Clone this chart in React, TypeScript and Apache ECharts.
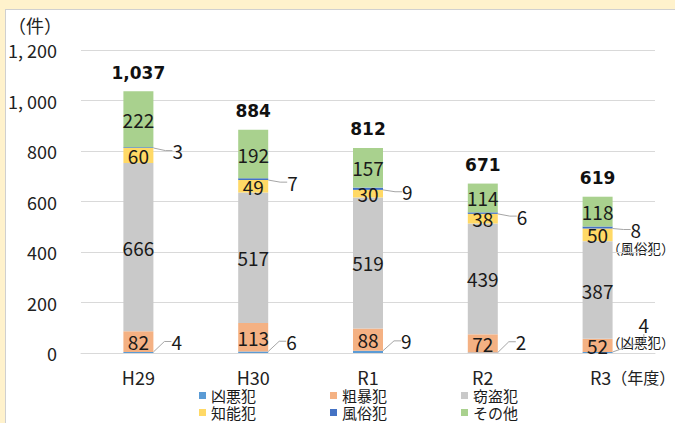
import React, { useEffect, useRef } from 'react';
import * as echarts from 'echarts';

const categories = ['H29', 'H30', 'R1', 'R2', 'R3'];
const seriesNames = ['凶悪犯', '粗暴犯', '窃盗犯', '知能犯', '風俗犯', 'その他'];
const kyoakuhan = [4, 6, 9, 2, 4];
const sobohan = [82, 113, 88, 72, 52];
const settohan = [666, 517, 519, 439, 387];
const chinohan = [60, 49, 30, 38, 50];
const fuzokuhan = [3, 7, 9, 6, 8];
const sonota = [222, 192, 157, 114, 118];
const totals = [1037, 884, 812, 671, 619];
const colors = ['#5B9BD5', '#F4B183', '#C9C9C9', '#FFD966', '#4472C4', '#A9D18E'];
const noteIndex = 4;
const lastCategoryUnit = '（年度）';
const notes = ['（風俗犯）', '（凶悪犯）'];

const NARROW = '"Liberation Sans Narrow", "Arial Narrow", "Noto Sans CJK JP", sans-serif';
const CJK = '"Noto Sans CJK JP", sans-serif';

export default function App() {
  const ref = useRef<HTMLDivElement>(null);
  useEffect(() => {
    if (!ref.current) return;
    const chart = echarts.init(ref.current, null, { renderer: 'svg' });
    const values = [kyoakuhan, sobohan, settohan, chinohan, fuzokuhan, sonota];
    const lineStyle = { color: '#A6A6A6', width: 1 };
    const series: any[] = values.map((data, i) => {
      const base: any = {
        name: seriesNames[i],
        type: 'bar',
        stack: 'total',
        barWidth: 30,
        data,
        itemStyle: { color: colors[i] },
      };
      if (i === 0 || i === 4) {
        base.label = {
          show: true,
          position: 'right',
          distance: 4,
          fontFamily: NARROW,
          fontSize: 19,
          color: '#1a1a1a',
        };
        base.labelLine = { show: true, length2: 7, lineStyle };
        base.labelLayout = (p: any) => {
          if (i === 0) {
            return p.dataIndex === noteIndex ? { dx: 22, dy: -28 } : { dx: 14, dy: -11 };
          }
          return p.dataIndex === noteIndex ? { dx: 14, dy: 2 } : { dx: 15, dy: 3 };
        };
      } else {
        base.label = {
          show: true,
          position: 'inside',
          fontFamily: NARROW,
          fontSize: 19,
          color: '#1a1a1a',
        };
      }
      return base;
    });
    series.push({
      name: '合計',
      type: 'bar',
      stack: 'total',
      barWidth: 30,
      data: totals.map(() => 0),
      itemStyle: { color: 'transparent' },
      label: {
        show: true,
        position: 'top',
        distance: 10,
        fontFamily: '"DejaVu Sans", sans-serif',
        fontWeight: 'bold',
        fontSize: 17,
        color: '#111',
        formatter: (p: any) => totals[p.dataIndex].toLocaleString('en-US'),
      },
    });

    const legendBase = {
      left: 199,
      padding: 0,
      itemWidth: 7,
      itemHeight: 7,
      itemGap: 74,
      icon: 'rect',
      textStyle: { fontFamily: CJK, fontSize: 15, lineHeight: 15, color: '#1a1a1a' },
    };

    chart.setOption({
      animation: false,
      grid: { left: 81, right: 20, top: 50, bottom: 70, outerBoundsMode: 'none', containLabel: false },
      legend: [
        { ...legendBase, data: seriesNames.slice(0, 3), top: 388 },
        { ...legendBase, data: seriesNames.slice(3, 6), top: 405 },
      ],
      xAxis: {
        type: 'category',
        data: categories,
        axisTick: { show: false },
        axisLine: { lineStyle: { color: '#D9D9D9' } },
        axisLabel: {
          interval: 0,
          fontFamily: NARROW,
          fontSize: 18,
          color: '#222',
          margin: 15,
          formatter: (v: string, idx: number) =>
            idx === categories.length - 1 ? `{a|${v}}{u|${lastCategoryUnit}}` : v,
          rich: {
            a: { fontFamily: NARROW, fontSize: 18, color: '#222', padding: [0, 0, 0, 70] },
            u: { fontFamily: CJK, fontSize: 16, color: '#222' },
          },
        },
      },
      yAxis: {
        type: 'value',
        min: 0,
        max: 1200,
        interval: 200,
        axisLine: { show: false },
        axisTick: { show: false },
        splitLine: { lineStyle: { color: '#D9D9D9' } },
        axisLabel: {
          fontFamily: NARROW,
          fontSize: 18,
          color: '#222',
          margin: 24,
          formatter: (v: number) =>
            v >= 1000 ? `${Math.floor(v / 1000)}, ${String(v % 1000).padStart(3, '0')}` : `${v}`,
        },
      },
      graphic: [
        { type: 'text', left: 8, top: 16, style: { text: '（件）', fontFamily: CJK, fontSize: 18, fill: '#222' } },
        { type: 'text', left: 607, top: 241, style: { text: notes[0], fontFamily: CJK, fontSize: 13.5, fill: '#1a1a1a' } },
        { type: 'text', left: 607, top: 335, style: { text: notes[1], fontFamily: CJK, fontSize: 13.5, fill: '#1a1a1a' } },
      ],
      series,
    });
    return () => chart.dispose();
  }, []);

  return (
    <div style={{ position: 'absolute', left: 0, top: 0, width: 675, height: 423, background: '#FFF2CC', overflow: 'hidden' }}>
      <div
        style={{
          position: 'absolute',
          left: 5,
          top: 9,
          right: 0,
          bottom: 0,
          background: '#FFFFFF',
          borderTop: '1px solid #D0D0D0',
          borderLeft: '1px solid #D0D0D0',
        }}
      />
      <div ref={ref} style={{ position: 'absolute', left: 0, top: 0, width: 675, height: 423 }} />
    </div>
  );
}
